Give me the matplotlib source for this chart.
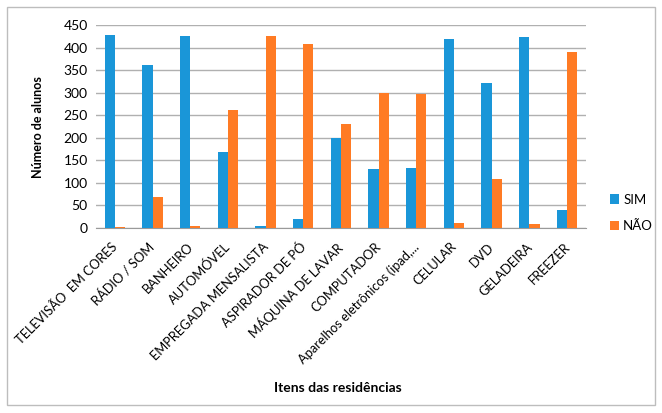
import matplotlib
matplotlib.use("Agg")
import matplotlib.pyplot as plt
import matplotlib.transforms as mtrans
import numpy as np
from matplotlib.patches import Rectangle

categories = ["TELEVISÃO  EM CORES", "RÁDIO / SOM", "BANHEIRO", "AUTOMÓVEL",
              "EMPREGADA MENSALISTA", "ASPIRADOR DE PÓ", "MÁQUINA DE LAVAR",
              "COMPUTADOR", "Aparelhos eletrônicos (ipad,...", "CELULAR", "DVD",
              "GELADEIRA", "FREEZER"]
sim = [428, 361, 426, 169, 5, 21, 200, 130, 134, 419, 321, 423, 39]
nao = [2, 69, 4, 261, 425, 408, 230, 299, 297, 10, 109, 8, 390]

plt.rcParams['font.family'] = ['Lato', 'DejaVu Sans']

fig = plt.figure(figsize=(6.62, 4.13), dpi=100)
fig.patches.append(Rectangle((7/662, 8/413), 648/662, 398/413, transform=fig.transFigure,
                             fill=False, edgecolor='#bdbdbd', linewidth=1))
ax = fig.add_axes([0.145, 0.448, 0.74, 0.491])

x = np.arange(len(categories))
w = 0.27
blue = '#1A96D8'
orange = '#FF7B24'
ax.bar(x - w/2, sim, w, color=blue, label='SIM', zorder=3)
ax.bar(x + w/2, nao, w, color=orange, label='NÃO', zorder=3)

ax.set_xlim(-0.5, len(categories) - 0.5)
ax.set_ylim(0, 450)
ax.set_yticks(range(0, 451, 50))
ax.yaxis.grid(True, color='#b0b0b0', linewidth=1, zorder=0)
ax.set_axisbelow(True)
for s in ['top', 'right', 'left']:
    ax.spines[s].set_visible(False)
ax.spines['bottom'].set_color('#9a9a9a')
ax.tick_params(axis='y', length=0, labelsize=10, pad=6)
ax.tick_params(axis='x', length=0, labelsize=9.3, pad=9)
ax.set_xticks(x)
ax.set_xticklabels(categories, rotation=45, ha='right')
offset = mtrans.ScaledTranslation(5/100, 0, fig.dpi_scale_trans)
for lab in ax.get_xticklabels():
    lab.set_transform(lab.get_transform() + offset)
ax.set_ylabel('Número de alunos', fontsize=9, fontweight='bold', labelpad=14)
fig.text(0.51, 0.06, 'Itens das residências', ha='center', va='center',
         fontsize=10, fontweight='bold')
ax.legend(loc='center left', bbox_to_anchor=(1.025, 0.075), frameon=False,
          fontsize=9.5, handlelength=0.7, handleheight=0.7, handletextpad=0.3,
          labelspacing=1.1)

fig.savefig('out.png', dpi=100)
